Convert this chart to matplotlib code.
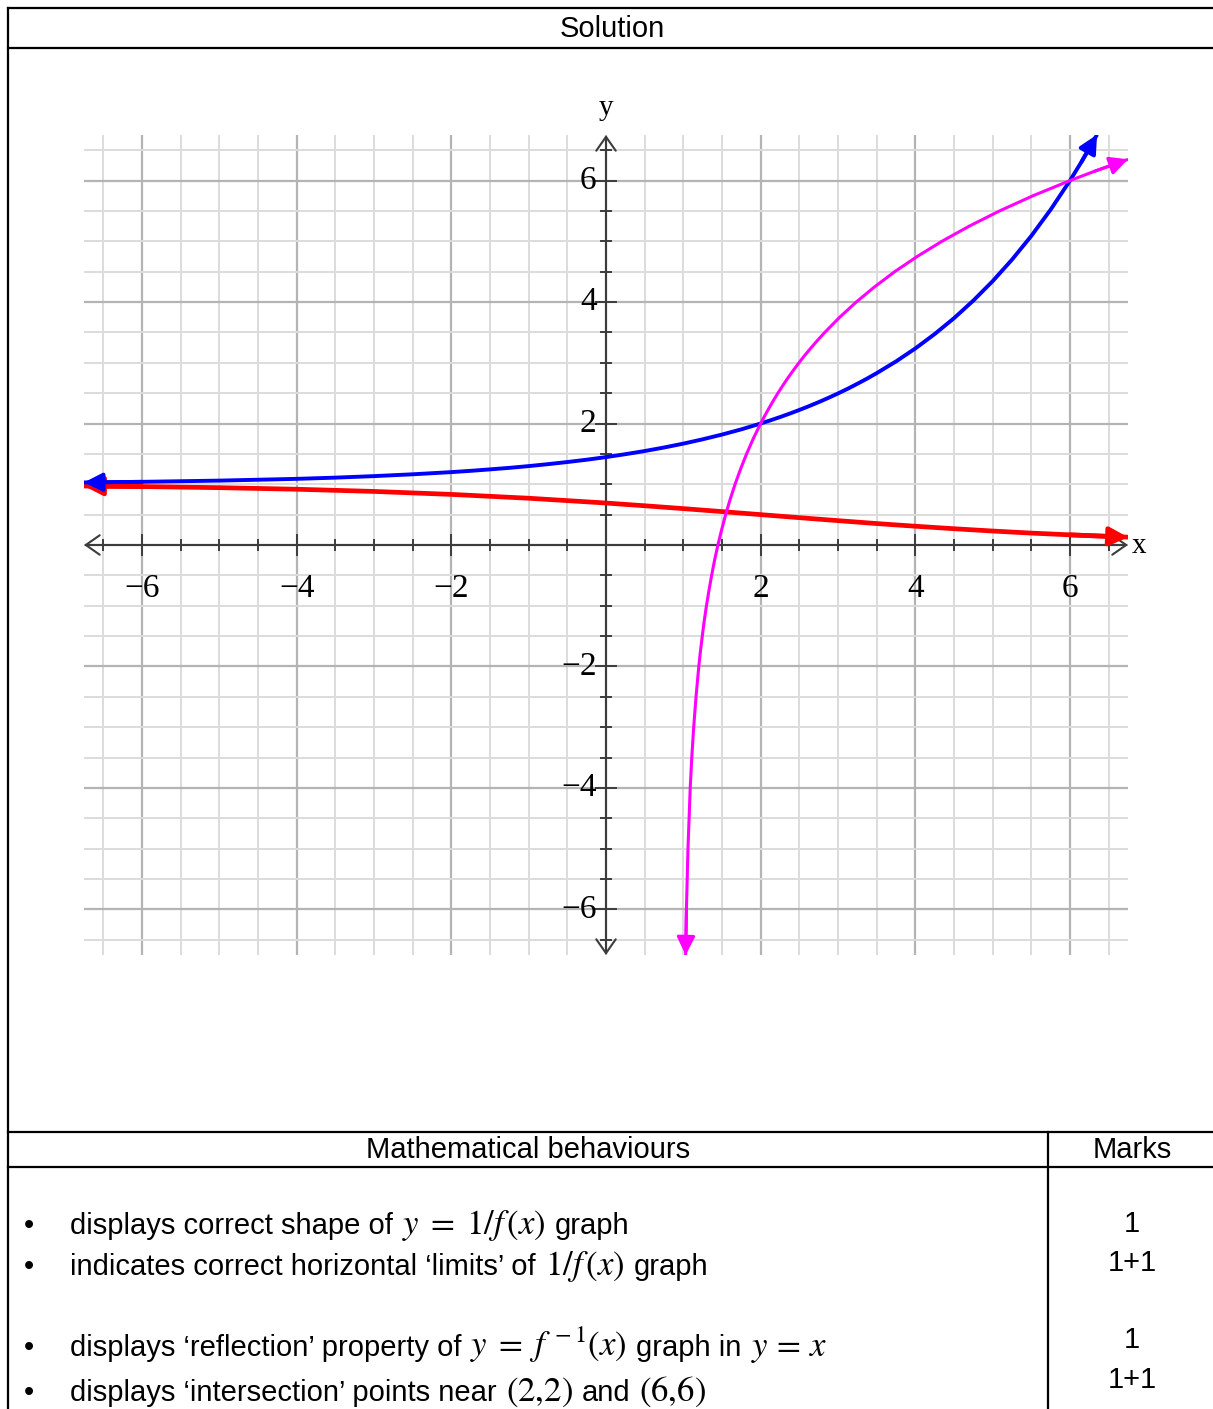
import numpy as np
import matplotlib
matplotlib.use('Agg')
import matplotlib.pyplot as plt
from matplotlib.lines import Line2D
from matplotlib.ticker import MultipleLocator

# values
blue_x = [-6.75, -6, -5, -4, -3.5, -3, -2.5, -2, -1.75, -1.5, -1.25, -1, -0.75, -0.5, -0.25,
          0, 0.25, 0.5, 0.75, 1, 1.25, 1.5, 1.75, 2, 2.125, 2.25, 2.375, 2.5, 2.625, 2.75,
          2.875, 3, 3.125, 3.25, 3.375, 3.5, 3.75, 4, 4.25, 4.5, 4.75, 5, 5.25, 5.5, 5.75,
          6, 6.15, 6.35]
blue_y = [1.030, 1.040, 1.060, 1.089, 1.109, 1.134, 1.164, 1.200, 1.221, 1.245, 1.270, 1.299,
          1.331, 1.366, 1.404, 1.447, 1.495, 1.547, 1.605, 1.669, 1.740, 1.818, 1.904, 2.000,
          2.052, 2.106, 2.163, 2.223, 2.286, 2.352, 2.422, 2.495, 2.572, 2.654, 2.739, 2.829,
          3.022, 3.236, 3.473, 3.734, 4.024, 4.344, 4.698, 5.089, 5.522, 6.000, 6.311, 6.756]

red_x = [-6.75, -6, -5, -4, -3, -2, -1, 0, 0.5, 1, 1.5, 2, 2.5, 3, 3.5, 4, 4.5, 5, 5.5, 6, 6.75]
red_y = [0.971, 0.962, 0.944, 0.918, 0.882, 0.833, 0.770, 0.691, 0.646, 0.599, 0.550, 0.500,
         0.450, 0.401, 0.353, 0.309, 0.268, 0.230, 0.196, 0.167, 0.129]

magenta_x = [1.030, 1.040, 1.060, 1.089, 1.109, 1.134, 1.164, 1.200, 1.221, 1.245, 1.270, 1.299,
             1.331, 1.366, 1.404, 1.447, 1.495, 1.547, 1.605, 1.669, 1.740, 1.818, 1.904, 2.000,
             2.052, 2.106, 2.163, 2.223, 2.286, 2.352, 2.422, 2.495, 2.572, 2.654, 2.739, 2.829,
             3.022, 3.236, 3.473, 3.734, 4.024, 4.344, 4.698, 5.089, 5.522, 6.000, 6.311, 6.75]
magenta_y = [-6.75, -6, -5, -4, -3.5, -3, -2.5, -2, -1.75, -1.5, -1.25, -1, -0.75, -0.5, -0.25,
             0, 0.25, 0.5, 0.75, 1, 1.25, 1.5, 1.75, 2, 2.125, 2.25, 2.375, 2.5, 2.625, 2.75,
             2.875, 3, 3.125, 3.25, 3.375, 3.5, 3.75, 4, 4.25, 4.5, 4.75, 5, 5.25, 5.5, 5.75,
             6, 6.15, 6.35]

tick_labels = [-6, -4, -2, 2, 4, 6]

# each row: plain pieces and $math$ pieces, laid out one after another
criteria = [
    ["displays correct shape of", "$y\\;=\\;1/f\\,(x)$", "graph"],
    ["indicates correct horizontal \u2018limits\u2019 of", "$1/f\\,(x)$", "graph"],
    ["displays \u2018reflection\u2019 property of", "$y\\;=\\;f^{\\,-1}(x)$", "graph in",
     "$y\\,=\\,x$"],
    ["displays \u2018intersection\u2019 points near", "$(2{,}2)$", "and", "$(6{,}6)$"],
]
marks = ["1", "1+1", "1", "1+1"]

W, H = 1213, 1409
plt.rcParams['mathtext.fontset'] = 'stix'
fig = plt.figure(figsize=(W / 100, H / 100), dpi=100)
renderer = fig.canvas.get_renderer()


def fx(x):
    return x / W


def fy(y):
    return 1 - y / H


def rule(x0, y0, x1, y1):
    fig.add_artist(Line2D([fx(x0), fx(x1)], [fy(y0), fy(y1)], color='black', lw=1.6))


# table frame
rule(8, 8, W, 8)
rule(8, 8, 8, H)
rule(8, 48, W, 48)
rule(8, 1132, W, 1132)
rule(8, 1167, W, 1167)
rule(1048, 1132, 1048, H)

sans = 'Liberation Sans'
serif = 'Liberation Serif'
TS = 21
fig.text(fx(612), fy(29), 'Solution', ha='center', va='center', size=TS, family=sans)
fig.text(fx(528), fy(1150), 'Mathematical behaviours', ha='center', va='center', size=TS,
         family=sans)
fig.text(fx(1132), fy(1150), 'Marks', ha='center', va='center', size=TS, family=sans)

row_base = [1234, 1275, 1356, 1401]
mark_y = [1224, 1263, 1340, 1380]
for pieces, yb in zip(criteria, row_base):
    fig.text(fx(24), fy(yb), '\u2022', ha='left', va='baseline', size=TS, family=sans)
    xpos = 70
    for p in pieces:
        is_math = p.startswith('$')
        t = fig.text(fx(xpos), fy(yb), p, ha='left', va='baseline',
                     size=25 if is_math else TS, family=sans)
        xpos += t.get_window_extent(renderer).width + 9
for m, ym in zip(marks, mark_y):
    fig.text(fx(1132), fy(ym), m, ha='center', va='center', size=TS, family=sans)

# graph
ax = fig.add_axes([fx(84), fy(955), (1128 - 84) / W, (955 - 135) / H])
ax.set_xlim(-6.75, 6.75)
ax.set_ylim(-6.75, 6.75)
for s in ax.spines.values():
    s.set_visible(False)
for axis in (ax.xaxis, ax.yaxis):
    axis.set_major_locator(MultipleLocator(2))
    axis.set_minor_locator(MultipleLocator(0.5))
ax.tick_params(which='both', length=0, labelbottom=False, labelleft=False)
ax.set_axisbelow(True)
ax.grid(which='minor', color='#dcdcdc', lw=1.4)
ax.grid(which='major', color='#b4b4b4', lw=1.6)

axis_col = '#3c3c3c'
astyle = dict(arrowstyle='<->,head_length=0.5,head_width=0.35', color=axis_col, lw=1.5,
              shrinkA=0, shrinkB=0, mutation_scale=20)
ax.annotate('', xy=(6.75, 0), xytext=(-6.75, 0), arrowprops=astyle, annotation_clip=False)
ax.annotate('', xy=(0, 6.75), xytext=(0, -6.75), arrowprops=astyle, annotation_clip=False)

for v in np.arange(-6.5, 6.51, 0.5):
    if v == 0:
        continue
    big = abs(v) % 2 == 0
    hy = 0.17 if big else 0.085
    hx = 0.13 if big else 0.065
    ax.plot([v, v], [-hy, hy], color=axis_col, lw=1.4, zorder=3)
    ax.plot([-hx, hx], [v, v], color=axis_col, lw=1.4, zorder=3)

for v in tick_labels:
    lab = ('\u2212%d' % -v) if v < 0 else '%d' % v
    ax.text(v, -0.72, lab, ha='center', va='center', family=serif, size=24)
    ax.text(-0.12, v, lab, ha='right', va='center', family=serif, size=24)
ax.text(6.8, -0.02, 'x', ha='left', va='center', family=serif, size=21, clip_on=False)
ax.text(0, 7.2, 'y', ha='center', va='center', family=serif, size=21, clip_on=False)


def curve(xs, ys, color, lw, z):
    ax.plot(xs, ys, color=color, lw=lw, zorder=z, solid_capstyle='butt',
            solid_joinstyle='round')
    head = dict(arrowstyle='-|>,head_length=0.5,head_width=0.25', color=color, lw=lw,
                shrinkA=0, shrinkB=0, mutation_scale=22)
    ax.annotate('', xy=(xs[-1], ys[-1]), xytext=(xs[-2], ys[-2]), arrowprops=head,
                annotation_clip=False, zorder=z)
    ax.annotate('', xy=(xs[0], ys[0]), xytext=(xs[1], ys[1]), arrowprops=head,
                annotation_clip=False, zorder=z)


curve(blue_x, blue_y, '#0000ff', 2.8, 5)
curve(red_x, red_y, '#ff0000', 3.4, 4)
curve(magenta_x, magenta_y, '#ff00ff', 2.2, 6)

fig.savefig('out.png', dpi=100)
